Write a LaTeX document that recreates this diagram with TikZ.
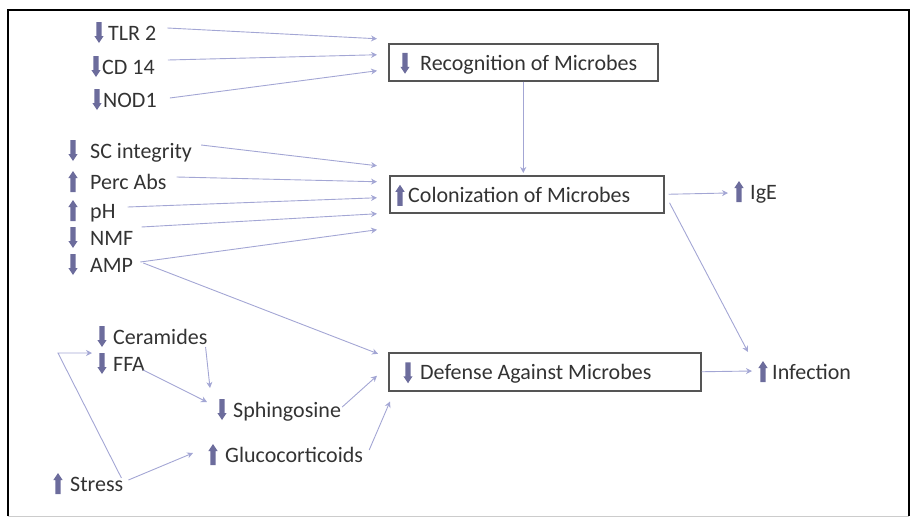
\documentclass[tikz,border=0pt]{standalone}
\usepackage{fontspec}
\setmainfont{Carlito}
\usetikzlibrary{arrows.meta}
\definecolor{conn}{HTML}{A3A6D4}
\definecolor{glyph}{HTML}{6C6C9C}
\definecolor{txt}{HTML}{333333}
\definecolor{boxc}{HTML}{555555}
\newcommand\fs{\fontsize{22}{24}\selectfont}
\begin{document}
\begin{tikzpicture}[x=1pt,y=-1pt,
  lab/.style={anchor=west, inner sep=0pt, font=\fs, text=txt, text height=15pt, text depth=4pt},
  boxnode/.style={draw=boxc, line width=1.5pt, anchor=north west, inner sep=0pt, minimum height=37pt},
  conline/.style={draw=conn, line width=0.9pt, -{Stealth[length=6pt,width=6pt]}},
  upg/.pic={\fill[glyph] (-2.6,10.5) -- (-2.6,-3.5) -- (-4.6,-3.5) -- (0,-10.5) -- (4.6,-3.5) -- (2.6,-3.5) -- (2.6,10.5) -- cycle;},
  dng/.pic={\fill[glyph] (-2.6,-10.5) -- (-2.6,3.5) -- (-4.6,3.5) -- (0,10.5) -- (4.6,3.5) -- (2.6,3.5) -- (2.6,-10.5) -- cycle;}]
\useasboundingbox (0,0) rectangle (913,517);
\draw[black, line width=2.5pt] (8,516) -- (8,10) -- (909,10) -- (909,516);
\draw[gray!40, line width=1pt] (8,516) -- (909,516);

% boxes
\node[boxnode, minimum width=269pt] (rec) at (388,43) {};
\node[lab] (rect) at ([xshift=32pt,yshift=-2.5pt]rec.west) {Recognition of Microbes};
\pic at ([xshift=17pt,yshift=-1pt]rec.west) {dng};
\node[boxnode, minimum width=274pt] (col) at (389,175) {};
\node[lab] (colt) at ([xshift=19pt,yshift=-2.5pt]col.west) {Colonization of Microbes};
\pic at ([xshift=11pt,yshift=-1pt]col.west) {upg};
\node[boxnode, minimum width=312pt, minimum height=38pt] (def) at (388,352) {};
\node[lab] (deft) at ([xshift=32pt,yshift=-2.5pt]def.west) {Defense Against Microbes};
\pic at ([xshift=20pt,yshift=-1pt]def.west) {dng};

% labels
\node[lab] (tlr) at (108,34.5) {TLR 2};
\node[lab] (cd) at (102,68.5) {CD 14};
\node[lab] (nod) at (103,101.5) {NOD1};
\node[lab] (sc) at (90,152.5) {SC integrity};
\node[lab] (perc) at (90,183.5) {Perc Abs};
\node[lab] (ph) at (90,212.5) {pH};
\node[lab] (nmf) at (90,239.5) {NMF};
\node[lab] (amp) at (90,266.5) {AMP};
\node[lab] (cer) at (113,338.5) {Ceramides};
\node[lab] (ffa) at (113,365.5) {FFA};
\node[lab] (sph) at (233,411.5) {Sphingosine};
\node[lab] (glu) at (225,456.5) {Glucocorticoids};
\node[lab] (str) at (70,485.5) {Stress};
\node[lab] (ige) at (750,193.5) {IgE};
\node[lab] (inf) at (772,373.5) {Infection};

% glyphs
\pic at ([xshift=-9pt,yshift=2pt]tlr.west) {dng};
\pic at ([xshift=-6pt,yshift=2pt]cd.west) {dng};
\pic at ([xshift=-6pt,yshift=2pt]nod.west) {dng};
\pic at ([xshift=-17pt,yshift=2pt]sc.west) {dng};
\pic at ([xshift=-17pt,yshift=2pt]perc.west) {upg};
\pic at ([xshift=-17pt,yshift=2pt]ph.west) {upg};
\pic at ([xshift=-17pt,yshift=2pt]nmf.west) {dng};
\pic at ([xshift=-17pt,yshift=2pt]amp.west) {dng};
\pic at ([xshift=-11pt,yshift=2pt]cer.west) {dng};
\pic at ([xshift=-11pt,yshift=2pt]ffa.west) {dng};
\pic at ([xshift=-11pt,yshift=2pt]sph.west) {dng};
\pic at ([xshift=-12pt,yshift=2pt]glu.west) {upg};
\pic at ([xshift=-12pt,yshift=2pt]str.west) {upg};
\pic at ([xshift=-11pt,yshift=2pt]ige.west) {upg};
\pic at ([xshift=-9pt,yshift=2pt]inf.west) {upg};

\coordinate (corner) at (58,353);

% connectors to recognition
\draw[conline] ([xshift=11pt,yshift=6.5pt]tlr.east) -- ([xshift=-11pt,yshift=23.5pt]rec.west);
\draw[conline] ([xshift=13pt,yshift=8.5pt]cd.east) -- ([xshift=-11pt,yshift=7.5pt]rec.west);
\draw[conline] ([xshift=13pt,yshift=3.5pt]nod.east) -- ([xshift=-11pt,yshift=-8.5pt]rec.west);
\draw[conline, shorten >=2pt] (rec.south) -- (rec.south |- col.north);

% connectors to colonization
\draw[conline] ([xshift=9pt,yshift=7.5pt]sc.east) -- ([xshift=-12pt,yshift=28.5pt]col.west);
\draw[conline] ([xshift=10pt,yshift=6.5pt]perc.east) -- ([xshift=-12pt,yshift=12.5pt]col.west);
\draw[conline] ([xshift=12pt,yshift=5.5pt]ph.east) -- ([xshift=-12pt,yshift=-3.5pt]col.west);
\draw[conline] ([xshift=8pt,yshift=12.5pt]nmf.east) -- ([xshift=-12pt,yshift=-19.5pt]col.west);
\draw[conline] ([xshift=7pt,yshift=4.5pt]amp.east) -- ([xshift=-12pt,yshift=-35.5pt]col.west);

% to defense
\draw[conline] ([xshift=10pt,yshift=3.5pt]amp.east) -- ([xshift=-10pt,yshift=18pt]def.west);
\draw[conline] ([xshift=1pt,yshift=4.5pt]sph.east) -- ([xshift=-11pt,yshift=-4pt]def.west);
\draw[conline] ([xshift=6pt,yshift=6.5pt]glu.east) -- ([xshift=2pt,yshift=-10pt]def.south west);

% lower left
\draw[conline] ([xshift=-2pt,yshift=7.5pt]str.east) -- (corner) -- ([xshift=-21pt,yshift=12.5pt]ffa.west);
\draw[conline] ([xshift=5pt,yshift=5.5pt]str.east) -- ([xshift=-32pt,yshift=3.5pt]glu.west);
\draw[conline] ([xshift=-2pt,yshift=-8.5pt]cer.east) -- ([xshift=-23pt,yshift=23.5pt]sph.west);
\draw[conline] ([xshift=-2pt,yshift=-4.5pt]ffa.east) -- ([xshift=-26pt,yshift=9.5pt]sph.west);

% outputs
\draw[conline] ([xshift=4pt]col.east) -- ([xshift=-22pt,yshift=0.5pt]ige.west);
\draw[conline] ([xshift=5pt,yshift=-8.5pt]col.east) -- ([xshift=-24pt,yshift=21.5pt]inf.west);
\draw[conline] (def.east) -- ([xshift=-20pt,yshift=2.5pt]inf.west);
\end{tikzpicture}
\end{document}
